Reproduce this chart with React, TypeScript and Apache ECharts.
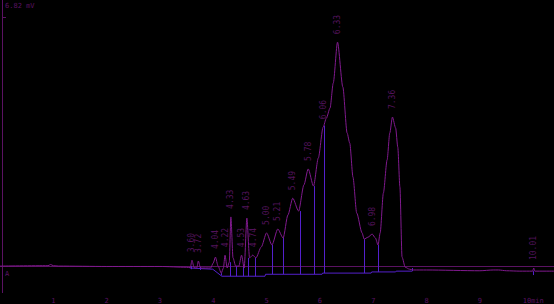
import React, { useEffect, useRef } from "react";
import * as echarts from "echarts";

const times = [0, 0.9, 0.95, 1.0, 1.1, 2.0, 3.0, 3.5, 3.57, 3.6, 3.64, 3.69, 3.72, 3.76, 3.95, 4.0, 4.04, 4.09, 4.15, 4.19, 4.22, 4.26, 4.3, 4.33, 4.37, 4.42, 4.48, 4.53, 4.58, 4.63, 4.68, 4.74, 4.8, 4.9, 5.0, 5.1, 5.21, 5.31, 5.4, 5.49, 5.6, 5.7, 5.78, 5.88, 5.97, 6.06, 6.12, 6.19, 6.25, 6.33, 6.43, 6.51, 6.56, 6.62, 6.69, 6.79, 6.83, 6.9, 6.98, 7.04, 7.09, 7.13, 7.19, 7.26, 7.31, 7.36, 7.42, 7.46, 7.5, 7.54, 7.6, 7.68, 7.75, 8.0, 9.0, 9.25, 9.35, 9.5, 9.75, 9.99, 10.01, 10.03, 10.39];
const signal = [0.0, 0.01, 0.04, 0.01, 0.0, -0.01, -0.01, -0.03, -0.04, 0.15, -0.04, -0.05, 0.13, -0.05, -0.05, 0.08, 0.23, 0.0, -0.18, -0.05, 0.28, -0.05, 0.1, 1.26, 0.21, 0.0, 0.0, 0.28, -0.05, 1.23, 0.21, 0.28, 0.21, 0.49, 0.85, 0.54, 0.95, 0.72, 1.31, 1.74, 1.41, 2.08, 2.49, 2.05, 2.77, 3.56, 3.79, 4.05, 4.69, 5.74, 4.59, 3.41, 3.15, 2.28, 1.36, 0.85, 0.69, 0.74, 0.82, 0.72, 0.54, 0.85, 1.87, 2.72, 3.41, 3.82, 3.54, 3.05, 2.03, 0.23, -0.03, -0.08, -0.1, -0.1, -0.12, -0.1, -0.1, -0.12, -0.13, -0.13, -0.05, -0.13, -0.13];

const dropTimes = [3.59, 3.75, 4.15, 4.32, 4.43, 4.56, 4.66, 4.78, 5.11, 5.31, 5.62, 5.89, 6.08, 6.83, 7.09, 7.73, 9.99];
const dropTops = [0.0, -0.02, -0.18, 0.1, 0.0, 0.0, 0.21, 0.21, 0.54, 0.72, 1.41, 2.05, 3.6, 0.69, 0.54, -0.05, -0.13];
const dropBases = [-0.08, -0.1, -0.24, -0.26, -0.26, -0.26, -0.26, -0.26, -0.21, -0.21, -0.21, -0.21, -0.18, -0.18, -0.15, -0.13, -0.23];

const baseTimes = [3.56, 3.99, 4.16, 4.97, 4.98, 6.04, 6.05, 6.96, 6.97, 7.42, 7.43, 7.73];
const baseValues = [-0.05, -0.08, -0.26, -0.26, -0.21, -0.21, -0.18, -0.18, -0.15, -0.15, -0.13, -0.13];

const peakTimes = [3.6, 3.72, 4.04, 4.22, 4.33, 4.53, 4.63, 4.76, 5.0, 5.21, 5.49, 5.78, 6.06, 6.33, 6.98, 7.36, 10.01];
const peakValues = [0.15, 0.13, 0.23, 0.28, 1.26, 0.28, 1.23, 0.28, 0.85, 0.95, 1.74, 2.49, 3.56, 5.74, 0.82, 3.82, -0.05];
const peakLabels = ["3.60", "3.72", "4.04", "4.22", "4.33", "4.53", "4.63", "4.74", "5.00", "5.21", "5.49", "5.78", "6.06", "6.33", "6.98", "7.36", "10.01"];

const xTickLabels = ["", "1", "2", "3", "4", "5", "6", "7", "8", "9", "10min"];

const CURVE = "#801a8e";
const DROP = "#5420cc";
const AXIS = "#5a1262";
const LABEL = "#681874";
const FONT = "DejaVu Sans Mono";

export default function App() {
  const ref = useRef<HTMLDivElement>(null);
  useEffect(() => {
    document.body.style.margin = "0";
    document.body.style.background = "#000";
    const chart = echarts.init(ref.current!, undefined, { renderer: "svg" });
    chart.setOption({
      animation: false,
      backgroundColor: "#000",
      grid: { left: 0, right: 0, top: 0, bottom: 11 },
      xAxis: {
        type: "value",
        min: 0,
        max: 10.39,
        interval: 1,
        axisLine: { show: true, lineStyle: { color: AXIS, width: 1 } },
        axisTick: { show: false },
        splitLine: { show: false },
        axisLabel: {
          color: AXIS,
          fontSize: 7,
          fontFamily: FONT,
          margin: 4,
          showMinLabel: false,
          showMaxLabel: false,
          formatter: (v: number) => xTickLabels[Math.round(v)] ?? "",
        },
      },
      yAxis: {
        type: "value",
        min: -0.69,
        max: 6.82,
        show: false,
      },
      graphic: [
        { type: "line", shape: { x1: 2.5, y1: 0, x2: 2.5, y2: 293 }, style: { stroke: AXIS, lineWidth: 1 } },
        { type: "line", shape: { x1: 2, y1: 17.5, x2: 6, y2: 17.5 }, style: { stroke: AXIS, lineWidth: 1 } },
        { type: "line", shape: { x1: 0, y1: 266.5, x2: 6, y2: 266.5 }, style: { stroke: AXIS, lineWidth: 1 } },
        { type: "text", x: 5, y: 2, style: { text: "6.82 mV", fill: AXIS, fontSize: 7, fontFamily: FONT } },
        { type: "text", x: 5, y: 270, style: { text: "A", fill: AXIS, fontSize: 7, fontFamily: FONT } },
      ],
      series: [
        {
          type: "line",
          data: baseTimes.map((t, i) => [t, baseValues[i]]),
          showSymbol: false,
          lineStyle: { color: DROP, width: 1 },
          z: 2,
        },
        {
          type: "custom",
          data: dropTimes.map((t, i) => [t, dropTops[i], dropBases[i]]),
          encode: { x: 0, y: [1, 2] },
          renderItem: (params: any, api: any) => {
            const t = api.value(0);
            const p1 = api.coord([t, api.value(1)]);
            const p2 = api.coord([t, api.value(2)]);
            const x = Math.round(p1[0]) + 0.5;
            return {
              type: "line",
              shape: { x1: x, y1: p1[1], x2: x, y2: p2[1] },
              style: { stroke: DROP, lineWidth: 1 },
            };
          },
          z: 3,
        },
        {
          type: "line",
          data: times.map((t, i) => [t, signal[i]]),
          showSymbol: false,
          smooth: 0.25,
          smoothMonotone: "x",
          lineStyle: { color: CURVE, width: 1 },
          z: 4,
        },
        {
          type: "scatter",
          data: peakTimes.map((t, i) => [t, peakValues[i]]),
          symbolSize: 0,
          label: {
            show: true,
            position: "top",
            distance: 8,
            rotate: 90,
            align: "left",
            verticalAlign: "middle",
            color: LABEL,
            fontSize: 8,
            fontFamily: FONT,
            formatter: (p: any) => peakLabels[p.dataIndex],
          },
          z: 5,
        },
      ],
    });
    return () => chart.dispose();
  }, []);
  return <div ref={ref} style={{ position: "fixed", left: 0, top: 0, width: 554, height: 304 }} />;
}
